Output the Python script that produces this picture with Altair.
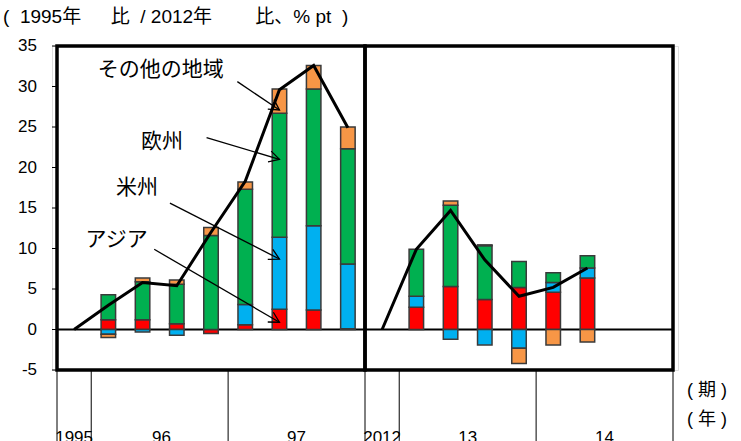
import math
import altair as alt
import pandas as pd

# ---------------- data ----------------
regions = ["アジア", "米州", "欧州", "その他の地域"]
colors = ["#FF0000", "#00B0F0", "#00B050", "#F79646"]

# left panel: 1996Q1..1997Q4 (vs 1995)
left_pos = [1, 2, 3, 4, 5, 6, 7, 8]
asia_L = [1.2, 1.2, 0.7, -0.5, 0.6, 2.5, 2.4, 0.1]
amer_L = [-0.6, -0.3, -0.7, 0.0, 2.5, 8.9, 10.4, 8.0]
euro_L = [3.1, 4.7, 4.9, 11.6, 14.2, 15.3, 16.9, 14.2]
other_L = [-0.4, 0.45, 0.5, 1.0, 0.9, 3.0, 2.9, 2.7]

# right panel: 2013Q1..2014Q2 (vs 2012)
right_pos = [10, 11, 12, 13, 14, 15]
asia_R = [2.75, 5.3, 3.7, 5.2, 4.6, 6.35]
amer_R = [1.35, -1.2, -1.9, -2.3, 1.2, 1.25]
euro_R = [5.8, 10.05, 6.65, 3.2, 1.2, 1.5]
other_R = [0.0, 0.5, 0.1, -1.9, -1.9, -1.55]

# total (line)
line_pos_L = [0, 1, 2, 3, 4, 5, 6, 7, 8]
total_L = [0, 3.0, 5.8, 5.4, 12.0, 18.3, 29.6, 32.6, 24.9]
line_pos_R = [9, 10, 11, 12, 13, 14, 15]
total_R = [0, 9.9, 14.7, 8.6, 4.1, 5.2, 7.6]

period_labels = ["1995", "96", "97", "2012", "13", "14"]
period_centers = [0.0, 2.55, 6.5, 9.0, 11.5, 15.5]
period_bounds = [-0.5, 0.5, 4.5, 8.5, 9.5, 13.5, 17.5]

y_ticks = [-5, 0, 5, 10, 15, 20, 25, 30, 35]
y_tick_labels = ["-5", "0", "5", "10", "15", "20", "25", "30", "35"]

NB = "\u00a0"
title_text = ("(" + NB * 2 + "1995年　" + NB * 2 + "比" + NB * 2 + "/" + NB
              + "2012年　　" + NB + "比、%" + NB + "pt" + NB * 2 + ")")
unit_labels = ["(" + NB + "期" + NB + ")", "(" + NB + "年" + NB + ")"]

ann_labels = ["その他の地域", "欧州", "米州", "アジア"]
ann_x = [2.53, 2.57, 1.84, 1.24]
ann_y = [32.0, 23.2, 17.5, 11.0]
arrow_x0 = [4.77, 3.87, 2.80, 2.34]
arrow_y0 = [30.6, 23.7, 15.6, 9.9]
arrow_x1 = [6.0, 6.0, 6.0, 6.0]
arrow_y1 = [27.1, 21.0, 8.7, 0.9]

# ---------------- layout ----------------
W, H = 626, 324
XDOM = [-0.5, 17.5]
YDOM = [-5, 35]
PX = W / (XDOM[1] - XDOM[0])
PY = H / (YDOM[1] - YDOM[0])

NUM_FONT = "Liberation Sans, Arial, sans-serif"
JP_FONT = "Noto Sans CJK JP, sans-serif"
MIX_FONT = "Liberation Sans, Noto Sans CJK JP, sans-serif"

xs = alt.Scale(domain=XDOM, nice=False, zero=False)
ys = alt.Scale(domain=YDOM, nice=False, zero=False)

rows = []
for pos_list, series in [(left_pos, [asia_L, amer_L, euro_L, other_L]),
                         (right_pos, [asia_R, amer_R, euro_R, other_R])]:
    for i, p in enumerate(pos_list):
        for k, (r, s) in enumerate(zip(regions, series)):
            if s[i] != 0:
                rows.append({"pos": p, "region": r, "ord": k, "value": s[i]})
bar_df = pd.DataFrame(rows)

line_df = pd.DataFrame(
    [{"pos": p, "total": v, "panel": "L"} for p, v in zip(line_pos_L, total_L)]
    + [{"pos": p, "total": v, "panel": "R"} for p, v in zip(line_pos_R, total_R)]
)

frame_df = pd.DataFrame({"x0": [XDOM[0], period_bounds[3]], "x1": [period_bounds[3], XDOM[1]],
                         "y0": [YDOM[0]] * 2, "y1": [YDOM[1]] * 2})
zero_df = pd.DataFrame({"x0": [XDOM[0]], "x1": [XDOM[1]], "y": [0]})
ytick_df = pd.DataFrame({"v": y_ticks, "lab": y_tick_labels})
pb_df = pd.DataFrame({"b": period_bounds})
pl_df = pd.DataFrame({"c": period_centers, "lab": period_labels})
ann_df = pd.DataFrame({"x": ann_x, "y": ann_y, "lab": ann_labels})
arr_df = pd.DataFrame({"x0": arrow_x0, "y0": arrow_y0, "x1": arrow_x1, "y1": arrow_y1})
arr_df["ang"] = [
    (math.degrees(math.atan2((a - b) * PY, (d - c) * PX)) + 360) % 360
    for a, b, c, d in zip(arrow_y0, arrow_y1, arrow_x0, arrow_x1)
]

bars = alt.Chart(bar_df).mark_bar(size=14.5, stroke="#3a3a3a", strokeWidth=1.5).encode(
    x=alt.X("pos:Q", scale=xs, axis=None),
    y=alt.Y("value:Q", scale=ys, stack="zero", axis=None),
    color=alt.Color("region:N", scale=alt.Scale(domain=regions, range=colors), legend=None),
    order=alt.Order("ord:Q"),
)

zero_line = alt.Chart(zero_df).mark_rule(color="black", strokeWidth=2).encode(
    x=alt.X("x0:Q", scale=xs, axis=None), x2="x1:Q", y=alt.Y("y:Q", scale=ys, axis=None)
)

line = alt.Chart(line_df).mark_line(color="black", strokeWidth=3).encode(
    x=alt.X("pos:Q", scale=xs, axis=None),
    y=alt.Y("total:Q", scale=ys, axis=None),
    detail="panel:N",
)

frame = alt.Chart(frame_df).mark_rect(fillOpacity=0, stroke="black", strokeWidth=3.5).encode(
    x=alt.X("x0:Q", scale=xs, axis=None), x2="x1:Q",
    y=alt.Y("y0:Q", scale=ys, axis=None), y2="y1:Q",
)

yticks = alt.Chart(ytick_df).mark_rule(color="black", strokeWidth=1).encode(
    x=alt.value(0), x2=alt.value(6), y=alt.Y("v:Q", scale=ys, axis=None)
)
ylabels = alt.Chart(ytick_df).mark_text(
    align="right", baseline="middle", fontSize=17, font=NUM_FONT, color="black"
).encode(x=alt.value(-15), y=alt.Y("v:Q", scale=ys, axis=None), text="lab:N")

pticks = alt.Chart(pb_df).mark_rule(color="black", strokeWidth=1).encode(
    x=alt.X("b:Q", scale=xs, axis=None), y=alt.value(H), y2=alt.value(H + 80)
)
plabels = alt.Chart(pl_df).mark_text(
    align="center", baseline="alphabetic", fontSize=17, font=NUM_FONT, color="black"
).encode(x=alt.X("c:Q", scale=xs, axis=None), y=alt.value(H + 73), text="lab:N")

ann_text = alt.Chart(ann_df).mark_text(
    align="center", baseline="middle", fontSize=21, font=JP_FONT, color="black"
).encode(x=alt.X("x:Q", scale=xs, axis=None), y=alt.Y("y:Q", scale=ys, axis=None), text="lab:N")

arr_lines = alt.Chart(arr_df).mark_rule(color="black", strokeWidth=1.3).encode(
    x=alt.X("x0:Q", scale=xs, axis=None), x2="x1:Q",
    y=alt.Y("y0:Q", scale=ys, axis=None), y2="y1:Q",
)
arr_heads = alt.Chart(arr_df).mark_point(
    shape="M -1 -0.55 L 0 0 L -1 0.55", size=420, filled=False,
    stroke="black", strokeWidth=1.3, opacity=1
).encode(
    x=alt.X("x1:Q", scale=xs, axis=None), y=alt.Y("y1:Q", scale=ys, axis=None),
    angle=alt.Angle("ang:Q", scale=None),
)

title = alt.Chart(pd.DataFrame({"t": [title_text]})).mark_text(
    align="left", baseline="middle", fontSize=19, font=MIX_FONT, color="black"
).encode(x=alt.value(-49), y=alt.value(-29), text="t:N")

unit1 = alt.Chart(pd.DataFrame({"t": [unit_labels[0]]})).mark_text(
    align="left", baseline="middle", fontSize=18, font=MIX_FONT, color="black"
).encode(x=alt.value(W + 9), y=alt.value(H + 21), text="t:N")
unit2 = alt.Chart(pd.DataFrame({"t": [unit_labels[1]]})).mark_text(
    align="left", baseline="middle", fontSize=18, font=MIX_FONT, color="black"
).encode(x=alt.value(W + 9), y=alt.value(H + 50), text="t:N")

chart = alt.layer(
    zero_line, bars, line, frame, yticks, ylabels, pticks, plabels,
    arr_lines, arr_heads, ann_text, title, unit1, unit2
).properties(
    width=W, height=H, autosize="none",
    padding={"left": 52, "top": 46, "right": 63, "bottom": 71},
).configure_view(stroke=None).configure(background="white")

chart.save("out.html", embed_options={"renderer": "svg", "actions": False})
